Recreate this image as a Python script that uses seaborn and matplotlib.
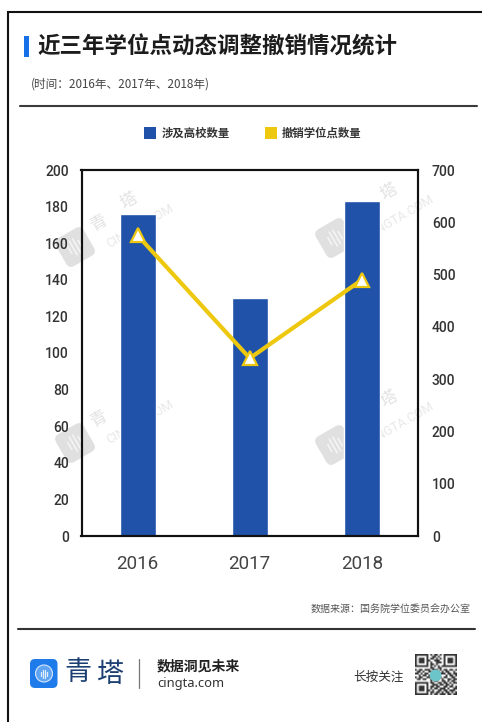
import matplotlib
matplotlib.use("Agg")
import matplotlib.pyplot as plt
from matplotlib.patches import FancyBboxPatch, Rectangle, Circle
from matplotlib.transforms import Affine2D
import numpy as np
import pandas as pd
import seaborn as sns

years = ["2016", "2017", "2018"]
schools = [176, 130, 183]
revoked = [575, 340, 490]

title = "近三年学位点动态调整撤销情况统计"
subtitle = "(时间：2016年、2017年、2018年)"
legend_labels = ["涉及高校数量", "撤销学位点数量"]
source = "数据来源：国务院学位委员会办公室"
left_ticks = list(range(0, 201, 20))
right_ticks = list(range(0, 701, 100))

BLUE = "#1f52a8"
YELLOW = "#eec80f"

sns.set_theme(style="white")
CJK = ["Noto Sans CJK SC", "DejaVu Sans"]
plt.rcParams["font.family"] = CJK

W, H = 482, 722
fig = plt.figure(figsize=(W / 100, H / 100), dpi=100, facecolor="white")


def px_axes(left, top, right, bottom, **kw):
    return fig.add_axes([left / W, 1 - bottom / H, (right - left) / W, (bottom - top) / H], **kw)


# Page layer in pixel coordinates, under the plot
page = fig.add_axes([0, 0, 1, 1], zorder=0)
page.set_xlim(0, W)
page.set_ylim(H, 0)
page.axis("off")

page.plot([8, 8, W], [H, 12, 12], color="#111111", lw=1.5, solid_joinstyle="miter")
page.add_patch(Rectangle((24, 36), 5, 21, color="#1670e8", lw=0))
page.text(37, 46.5, title, fontsize=16.2, fontweight="bold", color="#1c1c1c", va="center", ha="left")
page.text(31, 84.5, subtitle, fontsize=8.4, color="#444444", va="center", ha="left")
page.plot([20, 477], [105.5, 105.5], color="#3a3a3a", lw=1.5)

page.add_patch(Rectangle((144, 127), 12, 12, color=BLUE, lw=0))
page.text(162, 133, legend_labels[0], fontsize=8.2, fontweight="bold", color="#333333", va="center")
page.add_patch(Rectangle((265, 127), 12, 12, color=YELLOW, lw=0))
page.text(282, 133, legend_labels[1], fontsize=8.2, fontweight="bold", color="#333333", va="center")

page.text(471, 610, source, fontsize=7.2, color="#555555", va="center", ha="right")
page.plot([18, 475], [628.5, 628.5], color="#333333", lw=1.5)

# Brand block in the footer
page.add_patch(FancyBboxPatch((30, 659), 27.5, 29, boxstyle="round,pad=0,rounding_size=5", color="#1f7bea", lw=0))
page.add_patch(Circle((44, 673.5), 8.5, fc="#5fa5f2", ec="#d5e6fb", lw=0.8))
for dx, half in [(-3, 2), (-1, 4), (1, 4), (3, 2)]:
    page.plot([44 + dx, 44 + dx], [673.5 - half, 673.5 + half], color="#e4effc", lw=0.9)
page.text(78, 673, "青", fontsize=19.5, fontweight="medium", color="#1c3f73", va="center", ha="center")
page.text(110, 675, "塔", fontsize=19.5, fontweight="medium", color="#1c3f73", va="center", ha="center")
page.plot([138.5, 138.5], [659, 688], color="#777777", lw=0.9)
page.text(157, 666.5, "数据洞见未来", fontsize=10, fontweight="bold", color="#222222", va="center", ha="left")
page.text(157, 683, "cingta.com", fontsize=9.3, color="#333333", va="center", ha="left", family="Noto Sans")
page.text(353, 677, "长按关注", fontsize=9.1, color="#333333", va="center", ha="left")

# Faint brand marks behind the plot area
ROT = 30
for cx, cy in [(75, 247), (335, 238), (75, 443), (335, 445)]:
    tilt = Affine2D().rotate_deg_around(cx, cy, -ROT) + page.transData
    page.add_patch(FancyBboxPatch((cx - 16, cy - 16), 32, 32, boxstyle="round,pad=0,rounding_size=6",
                                  fc="#e0e0e0", ec="none", zorder=1, transform=tilt))
    for dx, half in [(-6, 4), (-2, 8), (2, 8), (6, 4)]:
        page.plot([cx + dx, cx + dx], [cy - half, cy + half], color="#f4f4f4", lw=1.2, zorder=1, transform=tilt)
    page.text(cx + 24, cy - 24, "青", fontsize=12, color="#e2e2e2", rotation=ROT, ha="center", va="center", zorder=1)
    page.text(cx + 54, cy - 46, "塔", fontsize=12, color="#e2e2e2", rotation=ROT, ha="center", va="center", zorder=1)
    page.text(cx + 65, cy - 21, "CINGTA.COM", fontsize=9, color="#e8e8e8", rotation=ROT, ha="center", va="center",
              zorder=1, family="Roboto")

# QR block in the footer
qr_rows = [
    "1111111010110101111111",
    "1000001001101001000001",
    "1011101011010101011101",
    "1011101100111001011101",
    "1011101010011101011101",
    "1000001011010001000001",
    "1111111010101011111111",
    "0000000011001100000000",
    "1011011101110101101101",
    "0110100110011010110010",
    "1101011001100111011011",
    "0010110110011000101101",
    "1011001101101101100110",
    "0110110011011010011011",
    "0000000010110011010110",
    "1111111011001101101011",
    "1000001001110110110100",
    "1011101011011001101101",
    "1011101010110111010011",
    "1011101101001101101110",
    "1000001011011010110101",
    "1111111010110111011011",
]
qr = px_axes(415, 654, 456, 695)
qr.imshow(np.array([[1 - int(c) * 0.8 for c in r] for r in qr_rows]), cmap="gray", vmin=0, vmax=1,
          interpolation="bilinear", aspect="auto")
qr.add_patch(Circle((10.5, 11), 3.2, fc="#6cc5c8", ec="none"))
qr.axis("off")

# Main chart: bars on the left scale, line on the right scale
df = pd.DataFrame({"year": years, "schools": schools, "revoked": revoked})
ax = px_axes(81.5, 170, 418, 536)
ax.patch.set_alpha(0)
sns.barplot(data=df, x="year", y="schools", color=BLUE, width=0.32, saturation=1, ax=ax, zorder=2)
ax.set_xlim(-0.5, 2.5)
ax.set_ylim(0, 200)
ax.set_yticks(left_ticks)
ax.set_xlabel("")
ax.set_ylabel("")
ax.tick_params(axis="y", length=0, pad=9, labelsize=10, labelcolor="#333333")
ax.tick_params(axis="x", length=0, pad=14, labelsize=13.5, labelcolor="#444444")
for lab in ax.get_yticklabels():
    lab.set_family("Roboto")
    lab.set_fontweight("medium")
for lab in ax.get_xticklabels():
    lab.set_family("Roboto")

ax2 = ax.twinx()
sns.lineplot(data=df, x="year", y="revoked", color=YELLOW, lw=3, marker="^", markersize=9.5,
             markerfacecolor="white", markeredgecolor=YELLOW, markeredgewidth=1.6, ax=ax2, zorder=3)
ax2.set_ylim(0, 700)
ax2.set_yticks(right_ticks)
ax2.set_xlabel("")
ax2.set_ylabel("")
ax2.tick_params(axis="y", length=0, pad=10, labelsize=10, labelcolor="#333333")
for lab in ax2.get_yticklabels():
    lab.set_family("Roboto")
    lab.set_fontweight("medium")

for a in (ax, ax2):
    for s in a.spines.values():
        s.set_visible(True)
        s.set_color("#111111")
        s.set_linewidth(1.5)

fig.savefig("out.png", dpi=100)
